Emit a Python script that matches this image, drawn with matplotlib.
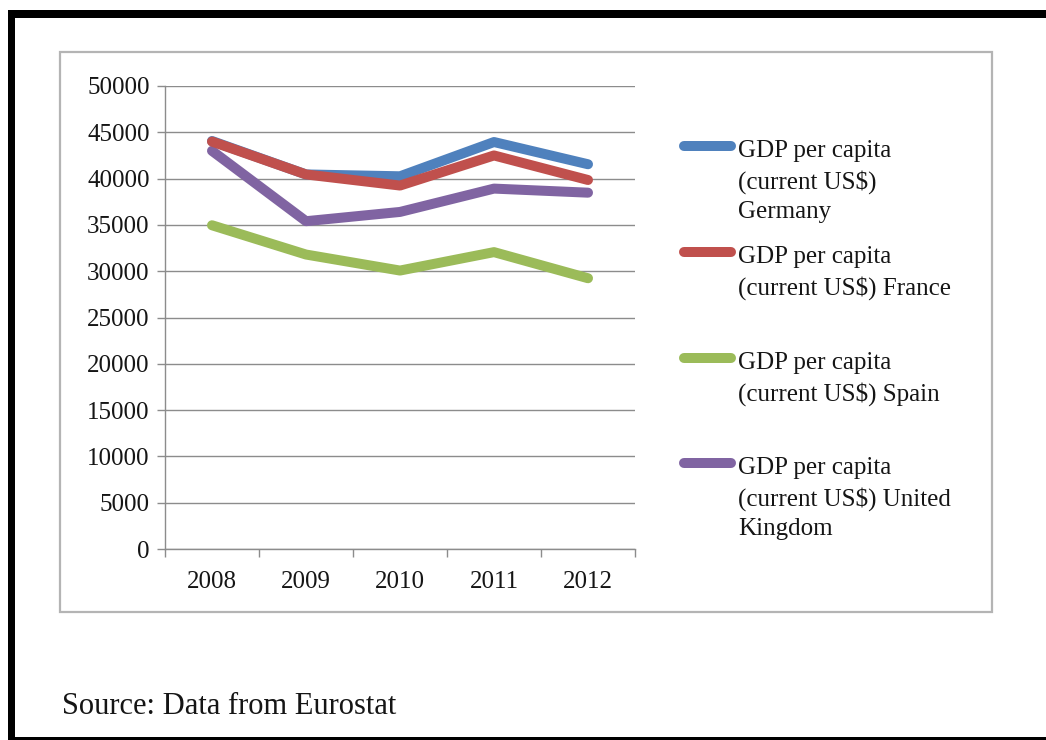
"""GDP per capita line chart (Eurostat), 2008-2012."""

import matplotlib

matplotlib.use("Agg")
import matplotlib.pyplot as plt
from matplotlib.lines import Line2D
from matplotlib.patches import Rectangle

plt.rcParams["font.family"] = ["Liberation Serif", "DejaVu Serif"]

YEARS = ["2008", "2009", "2010", "2011", "2012"]
GERMANY = [44060, 40450, 40250, 43950, 41550]
FRANCE = [44000, 40450, 39250, 42500, 39850]
SPAIN = [34960, 31800, 30070, 32060, 29240]
UK = [43000, 35400, 36400, 38920, 38480]

LABELS = [
    "GDP per capita\n(current US\\$)\nGermany",
    "GDP per capita\n(current US\\$) France",
    "GDP per capita\n(current US\\$) Spain",
    "GDP per capita\n(current US\\$) United\nKingdom",
]
COLORS = ["#4F81BD", "#C0504D", "#9BBB59", "#8064A2"]
Y_TICKS = list(range(0, 50001, 5000))

W, H = 1046, 740
GRID = "#8c8c8c"
TXT = "#151515"

fig = plt.figure(figsize=(W / 100, H / 100), dpi=100)


def px_box(x0, y0, x1, y1):
    """Pixel box (top-left origin) -> figure fraction [l, b, w, h]."""
    return [x0 / W, 1 - y1 / H, (x1 - x0) / W, (y1 - y0) / H]


# page frame: thick black top/left edge, thin bottom line
for x0, y0, x1, y1 in ((8, 10, W, 18), (8, 10, 15, H), (8, 737, W, H)):
    l, b, w, h = px_box(x0, y0, x1, y1)
    fig.patches.append(Rectangle((l, b), w, h, transform=fig.transFigure,
                                 facecolor="black", edgecolor="none"))

# chart border
l, b, w, h = px_box(60, 52, 992, 612)
fig.patches.append(Rectangle((l, b), w, h, transform=fig.transFigure,
                             facecolor="none", edgecolor="#b4b4b4", linewidth=1.6))

ax = fig.add_axes(px_box(165, 86, 635, 549))
x = list(range(len(YEARS)))
series = [GERMANY, FRANCE, SPAIN, UK]
for vals, color, z in zip(series, COLORS, (3, 4, 3, 2)):
    ax.plot(x, vals, color=color, linewidth=7.2, solid_capstyle="round",
            solid_joinstyle="round", zorder=z)

ax.set_ylim(0, 50000)
ax.set_yticks(Y_TICKS)
ax.set_yticklabels([str(v) for v in Y_TICKS])
ax.yaxis.grid(True, color=GRID, linewidth=1.0)
ax.set_axisbelow(True)

ax.set_xlim(-0.5, len(YEARS) - 0.5)
ax.set_xticks([i - 0.5 for i in range(len(YEARS) + 1)])
ax.set_xticklabels([])
ax.set_xticks(x, minor=True)
ax.set_xticklabels(YEARS, minor=True)

ax.tick_params(axis="y", length=6, width=1, color=GRID, pad=5,
               labelsize=18, labelcolor=TXT)
ax.tick_params(axis="x", which="major", length=6, width=1, color=GRID)
ax.tick_params(axis="x", which="minor", length=0, pad=16,
               labelsize=18, labelcolor=TXT)

for side in ("top", "right"):
    ax.spines[side].set_visible(False)
for side in ("left", "bottom"):
    ax.spines[side].set_color(GRID)
    ax.spines[side].set_linewidth(1.0)

# legend drawn by hand: handle aligned with first text line
legend_y = [146, 252, 358, 463]
for label, color, yy in zip(LABELS, COLORS, legend_y):
    fy = 1 - yy / H
    fig.add_artist(Line2D([684 / W, 731 / W], [fy, fy], transform=fig.transFigure,
                          color=color, linewidth=7.2, solid_capstyle="round"))
    fig.text(738 / W, 1 - (yy - 6) / H, label, fontsize=18, color=TXT,
             va="top", ha="left", linespacing=1.42)

fig.text(62 / W, 1 - 707 / H, "Source: Data from Eurostat", fontsize=22,
         color=TXT, va="center", ha="left")

fig.savefig("out.png", dpi=100)
